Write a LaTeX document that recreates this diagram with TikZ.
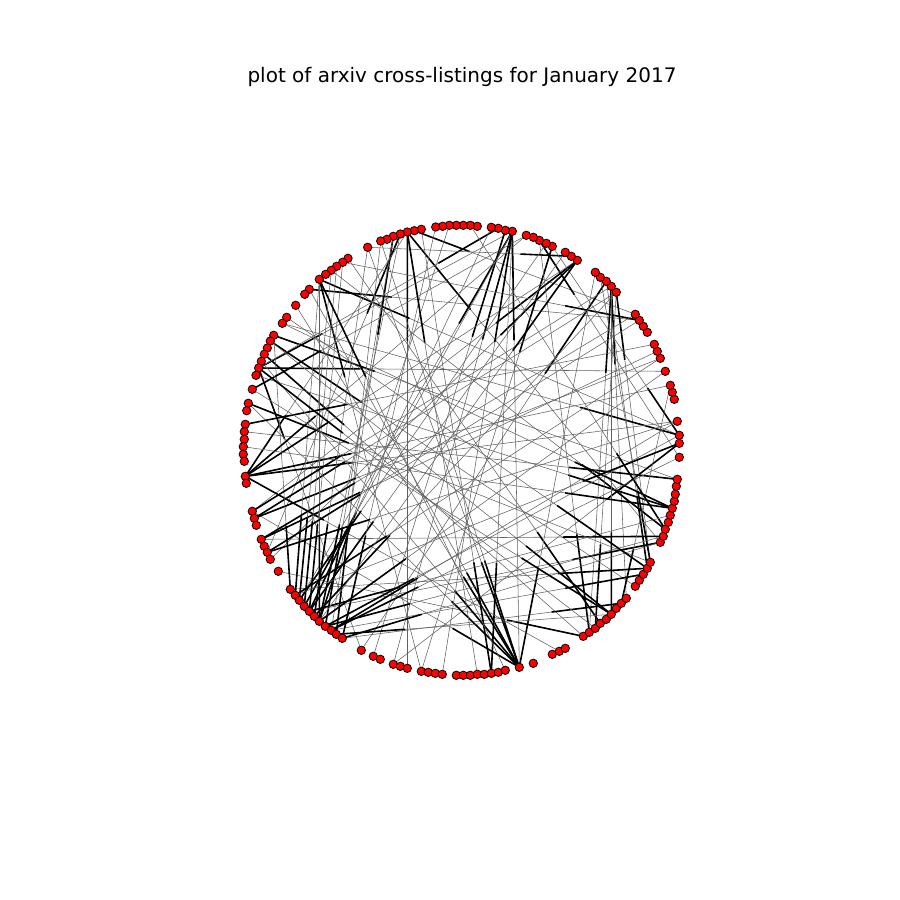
\documentclass[tikz,border=0pt]{standalone}
\usepackage{fontspec}
\setmainfont{DejaVu Sans}
\usetikzlibrary{calc, backgrounds}

\tikzset{
  vertex/.style={circle, draw=black, fill=red, line width=0.8pt, inner sep=0pt, minimum size=8.4pt},
  xlink/.style={draw=black!62, line width=0.55pt},
  headstub/.style={draw=black, line width=1.6pt},
}

\begin{document}
\begin{tikzpicture}[x=1pt, y=-1pt]
    \useasboundingbox (0,0) rectangle (900,900);

    % Title
    \node[font=\fontsize{20}{24}\selectfont] (title) at (462,77) {plot of arxiv cross-listings for January 2017};

    % Categories on the circle
    \foreach \x/\y [count=\i] in {679.3/443.3, 679.3/435.3, 677.3/421.3, 674.3/399.3, 672.3/392.3, 670.3/385.3,
        665.3/371.3, 660.3/358.3, 657.3/351.3, 654.3/344.3, 647.3/332.3, 643.3/326.3, 639.3/320.3, 635.3/314.3,
        616.3/292.3, 611.3/286.3, 606.3/281.3, 600.3/277.3, 595.3/272.3, 577.3/260.3, 571.3/256.3, 565.3/252.3,
        552.3/246.3, 546.3/243.3, 539.3/240.3, 533.3/237.3, 526.3/235.3, 512.3/231.3, 505.3/230.3, 498.3/228.3,
        491.3/227.3, 477.3/226.3, 470.3/225.3, 463.3/225.3, 456.3/225.3, 449.3/225.3, 442.7/226.3, 435.7/227,
        421.3/229.3, 414.3/230.7, 407.3/232, 400.3/234, 393.3/236.3, 387/239.3, 380.7/241, 367.7/247.3,
        348/258.3, 342.7/262.3, 336.7/266.3, 331.3/270.3, 325.7/274.3, 319.3/279.3, 309.3/289.3, 304.7/294.3,
        295.7/305.3, 286.7/317.3, 282.3/323.3, 273.7/335.3, 270.3/341, 267.3/348, 264.3/354.3, 261.3/361.3,
        258.7/368, 256/375.3, 252.3/389.3, 248.3/403.3, 246.7/410.7, 245.3/424.3, 244.3/431.7, 244.3/439.3,
        243.3/446.7, 243.3/454.3, 244.3/461.3, 245.3/476.3, 246.3/483.3, 252.3/511.3, 254.3/518.3, 256.3/525.3,
        261.3/539.3, 264.3/546.3, 267.3/552.3, 270.3/559.3, 278.3/571.3, 290.3/589.3, 295.3/595.3, 299.3/600.3,
        304.3/606.3, 309.3/611.3, 314.3/616.3, 319.3/621.3, 325.3/626.3, 331.3/630.3, 336.3/634.3, 342.3/638.3,
        361.3/650.3, 373.3/656.3, 380.3/659.3, 393.3/664.3, 400.3/666.3, 407.3/668.3, 421.3/671.3, 428.3/672.3,
        435.3/673.3, 442.3/674.3, 456.3/675.3, 463.3/675.3, 470.3/675.3, 477.3/674.3, 484.3/674.3, 491.3/673.3,
        498.3/672.3, 505.3/670.3, 519.3/667.3, 533.3/663.3, 552.3/654.3, 559.3/651.3, 565.3/648.3, 583.3/636.3,
        589.3/632.3, 595.3/628.3, 600.3/623.3, 606.3/619.3, 611.3/614.3, 616.3/608.3, 621.3/603.3, 626.3/598.3,
        635.3/586.3, 639.3/580.3, 643.3/574.3, 647.3/568.3, 650.3/562.3, 660.3/542.3, 663.3/536.3, 665.3/529.3,
        668.3/522.3, 670.3/515.3, 672.3/508.3, 674.3/501.3, 675.3/494.3, 676.3/486.3, 677.3/479.3, 679.3/457.3}
        \node[vertex] (n\i) at (\x,\y) {};

    % Cross-listings: thin chord, thick stub at the head end
    \begin{pgfonlayer}{background}
    \foreach \t/\s in {52/101, 52/2, 53/13, 58/141, 59/127, 63/28, 63/7, 61/118, 63/95,
        41/100, 42/81, 43/92, 41/132, 40/14, 30/63, 28/86, 29/96, 28/98, 28/113, 20/76, 20/82,
        23/101, 17/95, 21/46, 25/142, 16/126, 16/119, 15/131, 13/48, 2/57, 2/23,
        1/98, 134/50, 141/69, 137/64, 131/18, 130/17, 133/79, 132/88, 119/25, 120/15, 123/16,
        125/6, 130/84, 129/92, 125/94, 118/83, 123/59, 121/47, 137/57, 134/33,
        113/55, 113/53, 113/46, 113/45, 113/66, 113/76, 113/19, 110/28,
        74/3, 74/6, 74/27, 74/41, 74/116, 77/15, 77/8, 79/9,
        85/52, 86/50, 87/49, 88/48, 89/46, 90/42, 87/28, 88/22, 89/15, 90/7, 91/2, 92/142,
        88/136, 91/133, 93/123, 84/58, 94/132, 92/3, 85/8, 90/52, 93/45, 94/38, 91/43,
        76/16, 79/14, 81/13, 81/3, 65/27, 66/131, 68/10,
        74/20, 88/31, 90/36, 86/24, 113/62, 110/39, 28/104, 20/90, 130/56, 137/71,
        63/120, 52/112, 123/65, 1/85, 41/108}
    {
        \draw[xlink] (n\t.center) -- (n\s.center);
        \draw[headstub] (n\t.center) -- ($(n\t.center)!0.25!(n\s.center)$);
    }
    \end{pgfonlayer}
\end{tikzpicture}
\end{document}
